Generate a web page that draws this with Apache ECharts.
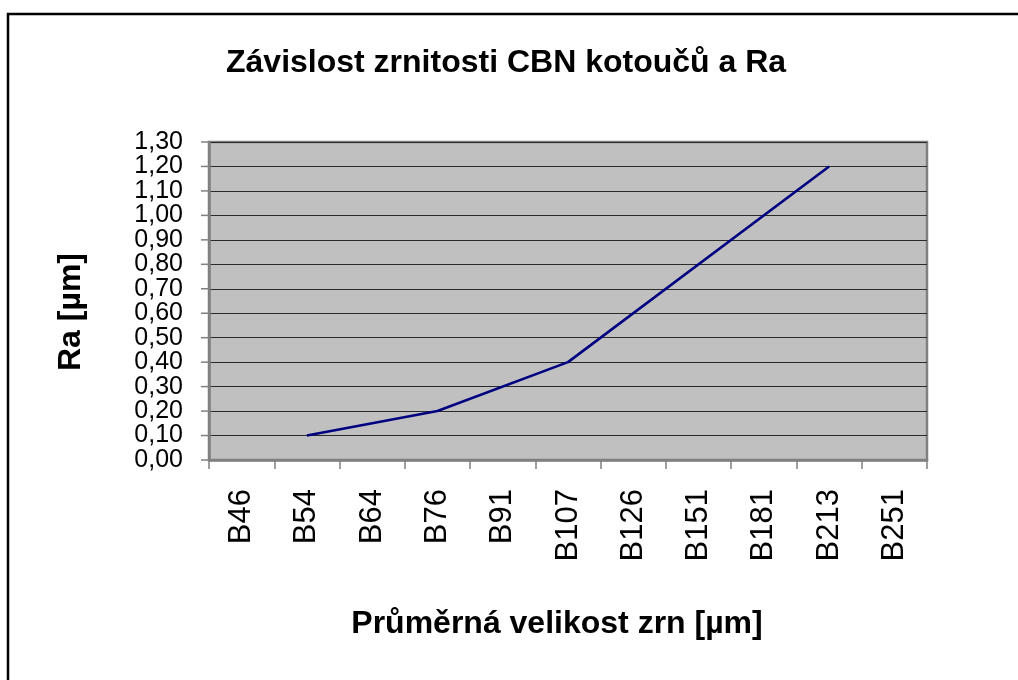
<!DOCTYPE html>
<html>
<head>
<meta charset="utf-8">
<script src="https://cdn.jsdelivr.net/npm/echarts@6/dist/echarts.min.js"></script>
<style>
  html, body { margin: 0; padding: 0; background: #fff; }
  #main { width: 1018px; height: 680px; }
</style>
</head>
<body>
<div id="main"></div>
<script>
// grit sizes of the CBN wheels
var categories = ['B46', 'B54', 'B64', 'B76', 'B91', 'B107', 'B126', 'B151', 'B181', 'B213', 'B251'];
// measured Ra [µm]; empty cells are bridged by the line
var raValues = [null, 0.10, null, 0.20, null, 0.40, null, null, null, 1.20, null];
// y axis ticks
var yTicks = [0, 0.1, 0.2, 0.3, 0.4, 0.5, 0.6, 0.7, 0.8, 0.9, 1.0, 1.1, 1.2, 1.3];
var yMin = 0, yMax = 1.3, yStep = 0.1;

var font = '"Liberation Sans", Arial, sans-serif';
var gridLeft = 209;
var myChart = echarts.init(document.getElementById('main'));

var frame = {
  type: 'rect',
  shape: { x: 8, y: 14, width: 1200, height: 800 },
  style: { fill: 'none', stroke: '#000', lineWidth: 2.5 },
  silent: true
};

myChart.setOption({
  animation: false,
  backgroundColor: '#fff',
  textStyle: { fontFamily: font },
  graphic: [frame],
  title: {
    text: 'Závislost zrnitosti CBN kotoučů a Ra',
    left: 221,
    top: 42,
    textStyle: { fontFamily: font, fontSize: 32, fontWeight: 'bold', color: '#000' }
  },
  grid: {
    left: gridLeft, top: 142, right: 91, bottom: 220,
    show: true,
    backgroundColor: '#c0c0c0',
    borderColor: '#808080',
    borderWidth: 2.5
  },
  xAxis: {
    type: 'category',
    data: categories,
    boundaryGap: true,
    name: 'Průměrná velikost zrn [µm]',
    nameLocation: 'middle',
    nameGap: 148,
    nameTextStyle: { fontFamily: font, fontSize: 32, fontWeight: 'bold', color: '#000', padding: [0, 22, 0, 0] },
    axisLine: { show: true, lineStyle: { color: '#808080', width: 2.5 } },
    axisTick: { show: true, alignWithLabel: false, length: 9, lineStyle: { color: '#808080', width: 1.5 } },
    axisLabel: { rotate: 90, margin: 29, fontFamily: font, fontSize: 31, color: '#000', interval: 0 },
    splitLine: { show: false }
  },
  yAxis: {
    type: 'value',
    min: yMin,
    max: yMax,
    interval: yStep,
    name: 'Ra [µm]',
    nameLocation: 'middle',
    nameRotate: 90,
    nameGap: 122,
    nameTextStyle: { fontFamily: font, fontSize: 32, fontWeight: 'bold', color: '#000', padding: [0, 22, 0, 0] },
    axisLine: { show: true, lineStyle: { color: '#808080', width: 2.5 } },
    axisTick: { show: false },
    axisLabel: { show: false },
    splitLine: { show: true, lineStyle: { color: '#2a2a2a', width: 1.2 } }
  },
  series: [{
    type: 'line',
    data: raValues,
    connectNulls: true,
    showSymbol: false,
    symbol: 'none',
    lineStyle: { color: '#000080', width: 2.6 },
    itemStyle: { color: '#000080' }
  }]
});

// y tick marks and labels placed through the axis scale
var yGraphics = [frame];
yTicks.forEach(function (v) {
  var py = myChart.convertToPixel({ yAxisIndex: 0 }, v);
  yGraphics.push({
    type: 'line',
    shape: { x1: gridLeft - 8, y1: py, x2: gridLeft, y2: py },
    style: { stroke: '#808080', lineWidth: 1.5 },
    silent: true
  });
  yGraphics.push({
    type: 'text',
    x: gridLeft - 26,
    y: py,
    style: {
      text: v.toFixed(2).replace('.', ','),
      fontFamily: font,
      fontSize: 25,
      fill: '#000',
      align: 'right',
      verticalAlign: 'middle'
    },
    silent: true
  });
});
myChart.setOption({ graphic: yGraphics }, { replaceMerge: ['graphic'] });
</script>
</body>
</html>
